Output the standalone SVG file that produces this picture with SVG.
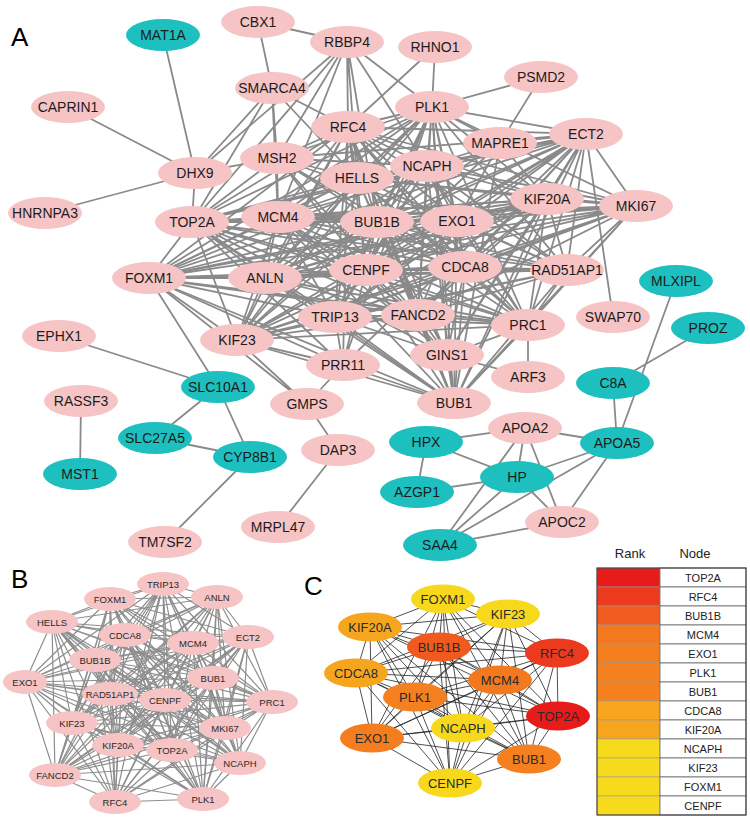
<svg xmlns="http://www.w3.org/2000/svg" width="750" height="818" viewBox="0 0 750 818">
<style>
.ea{stroke:#8a8a8a;stroke-width:1.8;fill:none}
.eb{stroke:#8e8e8e;stroke-width:1.2;fill:none}
.ec{stroke:#222;stroke-width:0.8;fill:none}
.pk ellipse{fill:#f6c4c4}
.tl ellipse{fill:#1ebfbf}
.A text{font-family:"Liberation Sans",Arial,sans-serif;font-size:14px;fill:#1c1c1c;text-anchor:middle}
.B text{font-family:"Liberation Sans",Arial,sans-serif;font-size:9.5px;fill:#2a2a2a;text-anchor:middle}
.C text{font-family:"Liberation Sans",Arial,sans-serif;font-size:13px;fill:#2a2a2a;text-anchor:middle}
.lbl{font-family:"Liberation Sans",Arial,sans-serif;font-size:26px;fill:#000}
.tb text{font-family:"Liberation Sans",Arial,sans-serif;font-size:11px;fill:#222;text-anchor:middle}
.tb .hd{font-size:13px}
.rk{stroke:#999;stroke-width:0.6}
.nd{fill:#fff;stroke:#666;stroke-width:0.8}
</style>
<rect width="750" height="818" fill="#fff"/>
<text class="lbl" x="11" y="46">A</text>
<text class="lbl" x="11" y="588">B</text>
<text class="lbl" x="304" y="595">C</text>

<g id="connectors">
<g id="edges-a" class="ea">
<path d="M348 127L432 107M348 127L357 178M348 127L427 166M348 127L586 134M348 127L192 222M348 127L278 217M348 127L377 222M348 127L457 221M348 127L547 199M348 127L636 206M348 127L149 278M348 127L265 278M348 127L366 270M348 127L465 267M348 127L567 270M348 127L335 317M348 127L418 315M348 127L528 325M348 127L237 340M348 127L454 403"/>
<path d="M432 107L357 178M432 107L427 166M432 107L586 134M432 107L192 222M432 107L278 217M432 107L377 222M432 107L457 221M432 107L547 199M432 107L636 206M432 107L149 278M432 107L265 278M432 107L366 270M432 107L465 267M432 107L567 270M432 107L335 317M432 107L418 315M432 107L528 325M432 107L237 340M432 107L454 403"/>
<path d="M357 178L427 166M357 178L586 134M357 178L192 222M357 178L278 217M357 178L377 222M357 178L457 221M357 178L547 199M357 178L636 206M357 178L149 278M357 178L265 278M357 178L366 270M357 178L465 267M357 178L567 270M357 178L335 317M357 178L418 315M357 178L528 325M357 178L237 340M357 178L454 403"/>
<path d="M427 166L586 134M427 166L192 222M427 166L278 217M427 166L377 222M427 166L457 221M427 166L547 199M427 166L636 206M427 166L149 278M427 166L265 278M427 166L366 270M427 166L465 267M427 166L567 270M427 166L335 317M427 166L418 315M427 166L528 325M427 166L237 340M427 166L454 403"/>
<path d="M586 134L192 222M586 134L278 217M586 134L377 222M586 134L457 221M586 134L547 199M586 134L636 206M586 134L149 278M586 134L265 278M586 134L366 270M586 134L465 267M586 134L567 270M586 134L335 317M586 134L418 315M586 134L528 325M586 134L237 340M586 134L454 403"/>
<path d="M192 222L278 217M192 222L377 222M192 222L457 221M192 222L547 199M192 222L636 206M192 222L149 278M192 222L265 278M192 222L366 270M192 222L465 267M192 222L567 270M192 222L335 317M192 222L418 315M192 222L528 325M192 222L237 340M192 222L454 403"/>
<path d="M278 217L377 222M278 217L457 221M278 217L547 199M278 217L636 206M278 217L149 278M278 217L265 278M278 217L366 270M278 217L465 267M278 217L567 270M278 217L335 317M278 217L418 315M278 217L528 325M278 217L237 340M278 217L454 403"/>
<path d="M377 222L457 221M377 222L547 199M377 222L636 206M377 222L149 278M377 222L265 278M377 222L366 270M377 222L465 267M377 222L567 270M377 222L335 317M377 222L418 315M377 222L528 325M377 222L237 340M377 222L454 403"/>
<path d="M457 221L547 199M457 221L636 206M457 221L149 278M457 221L265 278M457 221L366 270M457 221L465 267M457 221L567 270M457 221L335 317M457 221L418 315M457 221L528 325M457 221L237 340M457 221L454 403"/>
<path d="M547 199L636 206M547 199L149 278M547 199L265 278M547 199L366 270M547 199L465 267M547 199L567 270M547 199L335 317M547 199L418 315M547 199L528 325M547 199L237 340M547 199L454 403"/>
<path d="M636 206L149 278M636 206L265 278M636 206L366 270M636 206L465 267M636 206L567 270M636 206L335 317M636 206L418 315M636 206L528 325M636 206L237 340M636 206L454 403"/>
<path d="M149 278L265 278M149 278L366 270M149 278L465 267M149 278L567 270M149 278L335 317M149 278L418 315M149 278L528 325M149 278L237 340M149 278L454 403"/>
<path d="M265 278L366 270M265 278L465 267M265 278L567 270M265 278L335 317M265 278L418 315M265 278L528 325M265 278L237 340M265 278L454 403"/>
<path d="M366 270L465 267M366 270L567 270M366 270L335 317M366 270L418 315M366 270L528 325M366 270L237 340M366 270L454 403"/>
<path d="M465 267L567 270M465 267L335 317M465 267L418 315M465 267L528 325M465 267L237 340M465 267L454 403"/>
<path d="M567 270L335 317M567 270L418 315M567 270L528 325M567 270L237 340M567 270L454 403"/>
<path d="M335 317L418 315M335 317L528 325M335 317L237 340M335 317L454 403M418 315L528 325M418 315L237 340M418 315L454 403M528 325L237 340M528 325L454 403M237 340L454 403"/>
<path d="M277 158L348 127M277 158L357 178M277 158L278 217M277 158L192 222M277 158L195 173M277 158L272 88M277 158L377 222M277 158L366 270M277 158L457 221M277 158L432 107M277 158L418 315M277 158L347 42M277 158L427 166M277 158L465 267M277 158L586 134"/>
<path d="M447 355L454 403M447 355L465 267M447 355L278 217M447 355L432 107M447 355L366 270M447 355L192 222M447 355L348 127M447 355L418 315M447 355L528 325M447 355L335 317M447 355L586 134M447 355L377 222M447 355L547 199M447 355L528 377M447 355L457 221"/>
<path d="M343 365L237 340M343 365L454 403M343 365L366 270M343 365L192 222M343 365L149 278M343 365L307 404M343 365L432 107M343 365L586 134M343 365L335 317M343 365L348 127"/>
<path d="M347 42L258 22M347 42L348 127M347 42L432 107M347 42L192 222M347 42L195 173M347 42L278 217M347 42L357 178M347 42L377 222M347 42L427 166"/>
<path d="M272 88L258 22M272 88L348 127M272 88L192 222M272 88L195 173M272 88L357 178M272 88L278 217"/>
<path d="M500 143L432 107M500 143L586 134M500 143L547 199M500 143L427 166M500 143L377 222M500 143L454 403M500 143L366 270M500 143L541 77M500 143L457 221"/>
<path d="M195 173L163 35M195 173L68 107M195 173L45 213M195 173L192 222M541 77L432 107M435 47L432 107M435 47L348 127M586 134L613 317"/>
<path d="M149 278L218 387M149 278L307 404M237 340L307 404M59 336L218 387M218 387L155 438M218 387L250 457M155 438L250 457M81 401L80 474M250 457L165 542M307 404L338 450M338 450L278 527M528 325L528 377"/>
<path d="M676 281L617 443M708 328L613 383M613 383L617 443M525 428L426 442M525 428L617 443M525 428L517 477M525 428L440 545M525 428L562 522M426 442L517 477M426 442L417 492M417 492L517 477M517 477L617 443M517 477L562 522M517 477L440 545M440 545L617 443M440 545L562 522M617 443L562 522"/>
</g>
<g id="edges-b" class="eb">
<path d="M163 584L110 599M163 584L217 597M163 584L52 622M163 584L125 635M163 584L193 643M163 584L248 637M163 584L95 660M163 584L25 682M163 584L213 678M163 584L110 694M163 584L165 700M163 584L272 702M163 584L72 723M163 584L225 728M163 584L118 745M163 584L172 750M163 584L240 763M163 584L55 775M163 584L203 799M163 584L115 802"/>
<path d="M110 599L217 597M110 599L52 622M110 599L125 635M110 599L193 643M110 599L248 637M110 599L95 660M110 599L25 682M110 599L213 678M110 599L110 694M110 599L165 700M110 599L272 702M110 599L72 723M110 599L225 728M110 599L118 745M110 599L172 750M110 599L240 763M110 599L55 775M110 599L203 799M110 599L115 802"/>
<path d="M217 597L52 622M217 597L125 635M217 597L193 643M217 597L248 637M217 597L95 660M217 597L25 682M217 597L213 678M217 597L110 694M217 597L165 700M217 597L272 702M217 597L72 723M217 597L225 728M217 597L118 745M217 597L172 750M217 597L240 763M217 597L55 775M217 597L203 799M217 597L115 802"/>
<path d="M52 622L125 635M52 622L193 643M52 622L248 637M52 622L95 660M52 622L25 682M52 622L213 678M52 622L110 694M52 622L165 700M52 622L272 702M52 622L72 723M52 622L225 728M52 622L118 745M52 622L172 750M52 622L240 763M52 622L55 775M52 622L203 799M52 622L115 802"/>
<path d="M125 635L193 643M125 635L248 637M125 635L95 660M125 635L25 682M125 635L213 678M125 635L110 694M125 635L165 700M125 635L272 702M125 635L72 723M125 635L225 728M125 635L118 745M125 635L172 750M125 635L240 763M125 635L55 775M125 635L203 799M125 635L115 802"/>
<path d="M193 643L248 637M193 643L95 660M193 643L25 682M193 643L213 678M193 643L110 694M193 643L165 700M193 643L272 702M193 643L72 723M193 643L225 728M193 643L118 745M193 643L172 750M193 643L240 763M193 643L55 775M193 643L203 799M193 643L115 802"/>
<path d="M248 637L95 660M248 637L25 682M248 637L213 678M248 637L110 694M248 637L165 700M248 637L272 702M248 637L72 723M248 637L225 728M248 637L118 745M248 637L172 750M248 637L240 763M248 637L55 775M248 637L203 799M248 637L115 802"/>
<path d="M95 660L25 682M95 660L213 678M95 660L110 694M95 660L165 700M95 660L272 702M95 660L72 723M95 660L225 728M95 660L118 745M95 660L172 750M95 660L240 763M95 660L55 775M95 660L203 799M95 660L115 802"/>
<path d="M25 682L213 678M25 682L110 694M25 682L165 700M25 682L272 702M25 682L72 723M25 682L225 728M25 682L118 745M25 682L172 750M25 682L240 763M25 682L55 775M25 682L203 799M25 682L115 802"/>
<path d="M213 678L110 694M213 678L165 700M213 678L272 702M213 678L72 723M213 678L225 728M213 678L118 745M213 678L172 750M213 678L240 763M213 678L55 775M213 678L203 799M213 678L115 802"/>
<path d="M110 694L165 700M110 694L272 702M110 694L72 723M110 694L225 728M110 694L118 745M110 694L172 750M110 694L240 763M110 694L55 775M110 694L203 799M110 694L115 802"/>
<path d="M165 700L272 702M165 700L72 723M165 700L225 728M165 700L118 745M165 700L172 750M165 700L240 763M165 700L55 775M165 700L203 799M165 700L115 802"/>
<path d="M272 702L72 723M272 702L225 728M272 702L118 745M272 702L172 750M272 702L240 763M272 702L55 775M272 702L203 799M272 702L115 802"/>
<path d="M72 723L225 728M72 723L118 745M72 723L172 750M72 723L240 763M72 723L55 775M72 723L203 799M72 723L115 802"/>
<path d="M225 728L118 745M225 728L172 750M225 728L240 763M225 728L55 775M225 728L203 799M225 728L115 802M118 745L172 750M118 745L240 763M118 745L55 775M118 745L203 799M118 745L115 802"/>
<path d="M172 750L240 763M172 750L55 775M172 750L203 799M172 750L115 802M240 763L55 775M240 763L203 799M240 763L115 802M55 775L203 799M55 775L115 802M203 799L115 802"/>
</g>
<g id="edges-c" class="ec">
<path d="M443 599L508 614M443 599L370 627M443 599L439 647M443 599L557 653M443 599L356 673M443 599L500 680M443 599L415 697M443 599L558 716M443 599L463 728M443 599L372 738M443 599L529 759M443 599L450 783"/>
<path d="M508 614L370 627M508 614L439 647M508 614L557 653M508 614L356 673M508 614L500 680M508 614L415 697M508 614L558 716M508 614L463 728M508 614L372 738M508 614L529 759M508 614L450 783"/>
<path d="M370 627L439 647M370 627L557 653M370 627L356 673M370 627L500 680M370 627L415 697M370 627L558 716M370 627L463 728M370 627L372 738M370 627L529 759M370 627L450 783"/>
<path d="M439 647L557 653M439 647L356 673M439 647L500 680M439 647L415 697M439 647L558 716M439 647L463 728M439 647L372 738M439 647L529 759M439 647L450 783"/>
<path d="M557 653L356 673M557 653L500 680M557 653L415 697M557 653L558 716M557 653L463 728M557 653L372 738M557 653L529 759M557 653L450 783"/>
<path d="M356 673L500 680M356 673L415 697M356 673L558 716M356 673L463 728M356 673L372 738M356 673L529 759M356 673L450 783"/>
<path d="M500 680L415 697M500 680L558 716M500 680L463 728M500 680L372 738M500 680L529 759M500 680L450 783"/>
<path d="M415 697L558 716M415 697L463 728M415 697L372 738M415 697L529 759M415 697L450 783M558 716L463 728M558 716L372 738M558 716L529 759M558 716L450 783"/>
<path d="M463 728L372 738M463 728L529 759M463 728L450 783M372 738L529 759M372 738L450 783M529 759L450 783"/>
</g>
</g>

<g id="nodes-a" class="A">
<g id="a-CBX1" class="pk"><ellipse cx="258" cy="22" rx="37" ry="16"/><text x="258" y="27">CBX1</text></g>
<g id="a-RBBP4" class="pk"><ellipse cx="347" cy="42" rx="37" ry="16"/><text x="347" y="47">RBBP4</text></g>
<g id="a-RHNO1" class="pk"><ellipse cx="435" cy="47" rx="37" ry="16"/><text x="435" y="52">RHNO1</text></g>
<g id="a-PSMD2" class="pk"><ellipse cx="541" cy="77" rx="37" ry="16"/><text x="541" y="82">PSMD2</text></g>
<g id="a-MAT1A" class="tl"><ellipse cx="163" cy="35" rx="37" ry="16"/><text x="163" y="40">MAT1A</text></g>
<g id="a-CAPRIN1" class="pk"><ellipse cx="68" cy="107" rx="37" ry="16"/><text x="68" y="112">CAPRIN1</text></g>
<g id="a-SMARCA4" class="pk"><ellipse cx="272" cy="88" rx="37" ry="16"/><text x="272" y="93">SMARCA4</text></g>
<g id="a-PLK1" class="pk"><ellipse cx="432" cy="107" rx="37" ry="16"/><text x="432" y="112">PLK1</text></g>
<g id="a-RFC4" class="pk"><ellipse cx="348" cy="127" rx="37" ry="16"/><text x="348" y="132">RFC4</text></g>
<g id="a-MAPRE1" class="pk"><ellipse cx="500" cy="143" rx="37" ry="16"/><text x="500" y="148">MAPRE1</text></g>
<g id="a-ECT2" class="pk"><ellipse cx="586" cy="134" rx="37" ry="16"/><text x="586" y="139">ECT2</text></g>
<g id="a-MSH2" class="pk"><ellipse cx="277" cy="158" rx="37" ry="16"/><text x="277" y="163">MSH2</text></g>
<g id="a-DHX9" class="pk"><ellipse cx="195" cy="173" rx="37" ry="16"/><text x="195" y="178">DHX9</text></g>
<g id="a-HELLS" class="pk"><ellipse cx="357" cy="178" rx="37" ry="16"/><text x="357" y="183">HELLS</text></g>
<g id="a-NCAPH" class="pk"><ellipse cx="427" cy="166" rx="37" ry="16"/><text x="427" y="171">NCAPH</text></g>
<g id="a-KIF20A" class="pk"><ellipse cx="547" cy="199" rx="37" ry="16"/><text x="547" y="204">KIF20A</text></g>
<g id="a-MKI67" class="pk"><ellipse cx="636" cy="206" rx="37" ry="16"/><text x="636" y="211">MKI67</text></g>
<g id="a-HNRNPA3" class="pk"><ellipse cx="45" cy="213" rx="37" ry="16"/><text x="45" y="218">HNRNPA3</text></g>
<g id="a-TOP2A" class="pk"><ellipse cx="192" cy="222" rx="37" ry="16"/><text x="192" y="227">TOP2A</text></g>
<g id="a-MCM4" class="pk"><ellipse cx="278" cy="217" rx="37" ry="16"/><text x="278" y="222">MCM4</text></g>
<g id="a-BUB1B" class="pk"><ellipse cx="377" cy="222" rx="37" ry="16"/><text x="377" y="227">BUB1B</text></g>
<g id="a-EXO1" class="pk"><ellipse cx="457" cy="221" rx="37" ry="16"/><text x="457" y="226">EXO1</text></g>
<g id="a-FOXM1" class="pk"><ellipse cx="149" cy="278" rx="37" ry="16"/><text x="149" y="283">FOXM1</text></g>
<g id="a-ANLN" class="pk"><ellipse cx="265" cy="278" rx="37" ry="16"/><text x="265" y="283">ANLN</text></g>
<g id="a-CENPF" class="pk"><ellipse cx="366" cy="270" rx="37" ry="16"/><text x="366" y="275">CENPF</text></g>
<g id="a-CDCA8" class="pk"><ellipse cx="465" cy="267" rx="37" ry="16"/><text x="465" y="272">CDCA8</text></g>
<g id="a-RAD51AP1" class="pk"><ellipse cx="567" cy="270" rx="37" ry="16"/><text x="567" y="275">RAD51AP1</text></g>
<g id="a-MLXIPL" class="tl"><ellipse cx="676" cy="281" rx="37" ry="16"/><text x="676" y="286">MLXIPL</text></g>
<g id="a-TRIP13" class="pk"><ellipse cx="335" cy="317" rx="37" ry="16"/><text x="335" y="322">TRIP13</text></g>
<g id="a-FANCD2" class="pk"><ellipse cx="418" cy="315" rx="37" ry="16"/><text x="418" y="320">FANCD2</text></g>
<g id="a-SWAP70" class="pk"><ellipse cx="613" cy="317" rx="37" ry="16"/><text x="613" y="322">SWAP70</text></g>
<g id="a-PRC1" class="pk"><ellipse cx="528" cy="325" rx="37" ry="16"/><text x="528" y="330">PRC1</text></g>
<g id="a-PROZ" class="tl"><ellipse cx="708" cy="328" rx="37" ry="16"/><text x="708" y="333">PROZ</text></g>
<g id="a-EPHX1" class="pk"><ellipse cx="59" cy="336" rx="37" ry="16"/><text x="59" y="341">EPHX1</text></g>
<g id="a-KIF23" class="pk"><ellipse cx="237" cy="340" rx="37" ry="16"/><text x="237" y="345">KIF23</text></g>
<g id="a-GINS1" class="pk"><ellipse cx="447" cy="355" rx="37" ry="16"/><text x="447" y="360">GINS1</text></g>
<g id="a-PRR11" class="pk"><ellipse cx="343" cy="365" rx="37" ry="16"/><text x="343" y="370">PRR11</text></g>
<g id="a-ARF3" class="pk"><ellipse cx="528" cy="377" rx="37" ry="16"/><text x="528" y="382">ARF3</text></g>
<g id="a-C8A" class="tl"><ellipse cx="613" cy="383" rx="37" ry="16"/><text x="613" y="388">C8A</text></g>
<g id="a-SLC10A1" class="tl"><ellipse cx="218" cy="387" rx="37" ry="16"/><text x="218" y="392">SLC10A1</text></g>
<g id="a-RASSF3" class="pk"><ellipse cx="81" cy="401" rx="37" ry="16"/><text x="81" y="406">RASSF3</text></g>
<g id="a-GMPS" class="pk"><ellipse cx="307" cy="404" rx="37" ry="16"/><text x="307" y="409">GMPS</text></g>
<g id="a-BUB1" class="pk"><ellipse cx="454" cy="403" rx="37" ry="16"/><text x="454" y="408">BUB1</text></g>
<g id="a-APOA2" class="pk"><ellipse cx="525" cy="428" rx="37" ry="16"/><text x="525" y="433">APOA2</text></g>
<g id="a-SLC27A5" class="tl"><ellipse cx="155" cy="438" rx="37" ry="16"/><text x="155" y="443">SLC27A5</text></g>
<g id="a-HPX" class="tl"><ellipse cx="426" cy="442" rx="37" ry="16"/><text x="426" y="447">HPX</text></g>
<g id="a-APOA5" class="tl"><ellipse cx="617" cy="443" rx="37" ry="16"/><text x="617" y="448">APOA5</text></g>
<g id="a-DAP3" class="pk"><ellipse cx="338" cy="450" rx="37" ry="16"/><text x="338" y="455">DAP3</text></g>
<g id="a-CYP8B1" class="tl"><ellipse cx="250" cy="457" rx="37" ry="16"/><text x="250" y="462">CYP8B1</text></g>
<g id="a-MST1" class="tl"><ellipse cx="80" cy="474" rx="37" ry="16"/><text x="80" y="479">MST1</text></g>
<g id="a-HP" class="tl"><ellipse cx="517" cy="477" rx="37" ry="16"/><text x="517" y="482">HP</text></g>
<g id="a-AZGP1" class="tl"><ellipse cx="417" cy="492" rx="37" ry="16"/><text x="417" y="497">AZGP1</text></g>
<g id="a-APOC2" class="pk"><ellipse cx="562" cy="522" rx="37" ry="16"/><text x="562" y="527">APOC2</text></g>
<g id="a-MRPL47" class="pk"><ellipse cx="278" cy="527" rx="37" ry="16"/><text x="278" y="532">MRPL47</text></g>
<g id="a-TM7SF2" class="pk"><ellipse cx="165" cy="542" rx="37" ry="16"/><text x="165" y="547">TM7SF2</text></g>
<g id="a-SAA4" class="tl"><ellipse cx="440" cy="545" rx="37" ry="16"/><text x="440" y="550">SAA4</text></g>
</g>

<g id="nodes-b" class="B">
<g id="b-TRIP13" class="pk"><ellipse cx="163" cy="584" rx="26" ry="12"/><text x="163" y="587.5">TRIP13</text></g>
<g id="b-FOXM1" class="pk"><ellipse cx="110" cy="599" rx="26" ry="12"/><text x="110" y="602.5">FOXM1</text></g>
<g id="b-ANLN" class="pk"><ellipse cx="217" cy="597" rx="26" ry="12"/><text x="217" y="600.5">ANLN</text></g>
<g id="b-HELLS" class="pk"><ellipse cx="52" cy="622" rx="26" ry="12"/><text x="52" y="625.5">HELLS</text></g>
<g id="b-CDCA8" class="pk"><ellipse cx="125" cy="635" rx="26" ry="12"/><text x="125" y="638.5">CDCA8</text></g>
<g id="b-MCM4" class="pk"><ellipse cx="193" cy="643" rx="26" ry="12"/><text x="193" y="646.5">MCM4</text></g>
<g id="b-ECT2" class="pk"><ellipse cx="248" cy="637" rx="26" ry="12"/><text x="248" y="640.5">ECT2</text></g>
<g id="b-BUB1B" class="pk"><ellipse cx="95" cy="660" rx="26" ry="12"/><text x="95" y="663.5">BUB1B</text></g>
<g id="b-EXO1" class="pk"><ellipse cx="25" cy="682" rx="22" ry="12"/><text x="25" y="685.5">EXO1</text></g>
<g id="b-BUB1" class="pk"><ellipse cx="213" cy="678" rx="26" ry="12"/><text x="213" y="681.5">BUB1</text></g>
<g id="b-RAD51AP1" class="pk"><ellipse cx="110" cy="694" rx="28" ry="12"/><text x="110" y="697.5">RAD51AP1</text></g>
<g id="b-CENPF" class="pk"><ellipse cx="165" cy="700" rx="26" ry="12"/><text x="165" y="703.5">CENPF</text></g>
<g id="b-PRC1" class="pk"><ellipse cx="272" cy="702" rx="26" ry="12"/><text x="272" y="705.5">PRC1</text></g>
<g id="b-KIF23" class="pk"><ellipse cx="72" cy="723" rx="26" ry="12"/><text x="72" y="726.5">KIF23</text></g>
<g id="b-MKI67" class="pk"><ellipse cx="225" cy="728" rx="26" ry="12"/><text x="225" y="731.5">MKI67</text></g>
<g id="b-KIF20A" class="pk"><ellipse cx="118" cy="745" rx="26" ry="12"/><text x="118" y="748.5">KIF20A</text></g>
<g id="b-TOP2A" class="pk"><ellipse cx="172" cy="750" rx="26" ry="12"/><text x="172" y="753.5">TOP2A</text></g>
<g id="b-NCAPH" class="pk"><ellipse cx="240" cy="763" rx="26" ry="12"/><text x="240" y="766.5">NCAPH</text></g>
<g id="b-FANCD2" class="pk"><ellipse cx="55" cy="775" rx="26" ry="12"/><text x="55" y="778.5">FANCD2</text></g>
<g id="b-PLK1" class="pk"><ellipse cx="203" cy="799" rx="26" ry="12"/><text x="203" y="802.5">PLK1</text></g>
<g id="b-RFC4" class="pk"><ellipse cx="115" cy="802" rx="26" ry="12"/><text x="115" y="805.5">RFC4</text></g>
</g>

<g id="nodes-c" class="C">
<g id="c-FOXM1"><ellipse cx="443" cy="599" rx="32" ry="14.5" fill="#f8d81c"/><text x="443" y="603.5">FOXM1</text></g>
<g id="c-KIF23"><ellipse cx="508" cy="614" rx="32" ry="14.5" fill="#f8d81c"/><text x="508" y="618.5">KIF23</text></g>
<g id="c-KIF20A"><ellipse cx="370" cy="627" rx="32" ry="14.5" fill="#f6a51f"/><text x="370" y="631.5">KIF20A</text></g>
<g id="c-BUB1B"><ellipse cx="439" cy="647" rx="32" ry="14.5" fill="#f05a1e"/><text x="439" y="651.5">BUB1B</text></g>
<g id="c-RFC4"><ellipse cx="557" cy="653" rx="32" ry="14.5" fill="#ec3a1f"/><text x="557" y="657.5">RFC4</text></g>
<g id="c-CDCA8"><ellipse cx="356" cy="673" rx="32" ry="14.5" fill="#f6a51f"/><text x="356" y="677.5">CDCA8</text></g>
<g id="c-MCM4"><ellipse cx="500" cy="680" rx="32" ry="14.5" fill="#f3791f"/><text x="500" y="684.5">MCM4</text></g>
<g id="c-PLK1"><ellipse cx="415" cy="697" rx="32" ry="14.5" fill="#f4801f"/><text x="415" y="701.5">PLK1</text></g>
<g id="c-TOP2A"><ellipse cx="558" cy="716" rx="32" ry="14.5" fill="#e81b1b"/><text x="558" y="720.5">TOP2A</text></g>
<g id="c-NCAPH"><ellipse cx="463" cy="728" rx="32" ry="14.5" fill="#f8d81c"/><text x="463" y="732.5">NCAPH</text></g>
<g id="c-EXO1"><ellipse cx="372" cy="738" rx="32" ry="14.5" fill="#f47d1f"/><text x="372" y="742.5">EXO1</text></g>
<g id="c-BUB1"><ellipse cx="529" cy="759" rx="32" ry="14.5" fill="#f4801f"/><text x="529" y="763.5">BUB1</text></g>
<g id="c-CENPF"><ellipse cx="450" cy="783" rx="32" ry="14.5" fill="#f8d81c"/><text x="450" y="787.5">CENPF</text></g>
</g>

<g id="rank-table" class="tb">
<text class="hd" x="630" y="558">Rank</text>
<text class="hd" x="695" y="558">Node</text>
<rect class="rk" x="597" y="568" width="63" height="19" fill="#e81b1b"/>
<rect class="rk" x="597" y="587" width="63" height="19" fill="#ec3a1f"/>
<rect class="rk" x="597" y="606" width="63" height="19" fill="#f05b1f"/>
<rect class="rk" x="597" y="625" width="63" height="19" fill="#f3791f"/>
<rect class="rk" x="597" y="644" width="63" height="19" fill="#f47f1e"/>
<rect class="rk" x="597" y="663" width="63" height="19" fill="#f4801f"/>
<rect class="rk" x="597" y="682" width="63" height="19" fill="#f4801e"/>
<rect class="rk" x="597" y="701" width="63" height="19" fill="#f7a51f"/>
<rect class="rk" x="597" y="720" width="63" height="19" fill="#f7a51f"/>
<rect class="rk" x="597" y="739" width="63" height="19" fill="#f8da1c"/>
<rect class="rk" x="597" y="758" width="63" height="19" fill="#f8da1c"/>
<rect class="rk" x="597" y="777" width="63" height="19" fill="#f8da1c"/>
<rect class="rk" x="597" y="796" width="63" height="19" fill="#f8da1c"/>
<rect class="nd" x="660" y="568" width="86" height="19"/>
<rect class="nd" x="660" y="587" width="86" height="19"/>
<rect class="nd" x="660" y="606" width="86" height="19"/>
<rect class="nd" x="660" y="625" width="86" height="19"/>
<rect class="nd" x="660" y="644" width="86" height="19"/>
<rect class="nd" x="660" y="663" width="86" height="19"/>
<rect class="nd" x="660" y="682" width="86" height="19"/>
<rect class="nd" x="660" y="701" width="86" height="19"/>
<rect class="nd" x="660" y="720" width="86" height="19"/>
<rect class="nd" x="660" y="739" width="86" height="19"/>
<rect class="nd" x="660" y="758" width="86" height="19"/>
<rect class="nd" x="660" y="777" width="86" height="19"/>
<rect class="nd" x="660" y="796" width="86" height="19"/>
<rect x="597" y="568" width="149" height="247" fill="none" stroke="#333" stroke-width="1"/>
<text x="703" y="581.5">TOP2A</text>
<text x="703" y="600.5">RFC4</text>
<text x="703" y="619.5">BUB1B</text>
<text x="703" y="638.5">MCM4</text>
<text x="703" y="657.5">EXO1</text>
<text x="703" y="676.5">PLK1</text>
<text x="703" y="695.5">BUB1</text>
<text x="703" y="714.5">CDCA8</text>
<text x="703" y="733.5">KIF20A</text>
<text x="703" y="752.5">NCAPH</text>
<text x="703" y="771.5">KIF23</text>
<text x="703" y="790.5">FOXM1</text>
<text x="703" y="809.5">CENPF</text>
</g>
</svg>
